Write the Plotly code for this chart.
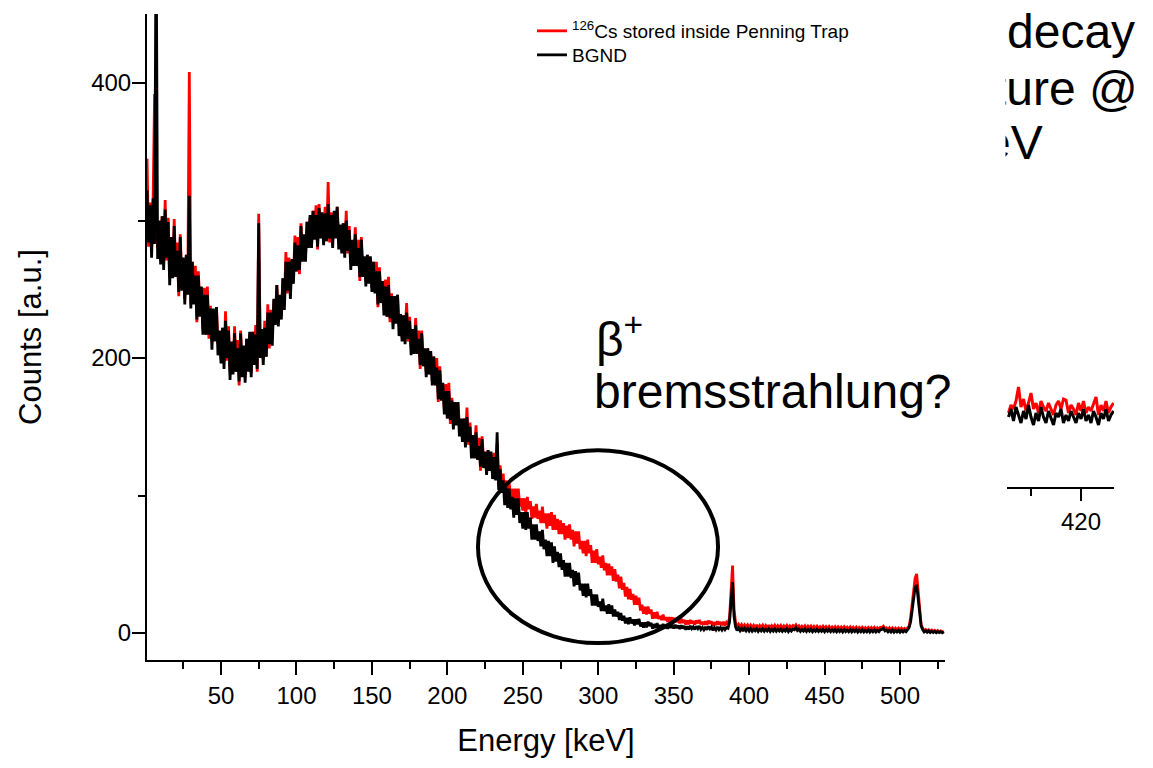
import plotly.graph_objects as go

W, H = 1153, 768

# ---------------- data ----------------
# counts per 1 keV channel, channel energies 1, 2, 3, ... keV
bgnd_counts = [
    322, 284, 311, 273, 316, 283, 520, 272, 300, 268,
    303, 264, 308, 273, 299, 253, 288, 258, 296, 259,
    278, 248, 288, 249, 273, 239, 275, 246, 318, 236,
    270, 239, 260, 228, 260, 230, 252, 217, 246, 217,
    246, 217, 236, 206, 236, 212, 237, 202, 220, 196,
    222, 192, 227, 200, 220, 184, 212, 188, 218, 190,
    207, 183, 218, 186, 209, 182, 214, 190, 219, 186,
    219, 195, 217, 192, 298, 200, 221, 195, 222, 201,
    233, 210, 233, 209, 243, 224, 253, 223, 246, 228,
    258, 235, 270, 249, 270, 243, 272, 254, 284, 263,
    282, 264, 296, 270, 290, 270, 299, 280, 304, 280,
    307, 286, 304, 281, 309, 287, 306, 282, 305, 285,
    312, 287, 304, 280, 307, 287, 310, 279, 297, 276,
    298, 273, 300, 278, 293, 264, 286, 267, 290, 267,
    280, 259, 286, 259, 274, 252, 275, 254, 274, 248,
    270, 247, 263, 239, 263, 240, 256, 231, 252, 230,
    253, 229, 245, 221, 245, 225, 246, 216, 232, 212,
    231, 210, 233, 214, 227, 202, 221, 203, 224, 203,
    214, 195, 218, 194, 207, 186, 207, 188, 205, 180,
    201, 180, 193, 170, 191, 169, 182, 159, 176, 156,
    176, 155, 169, 148, 168, 151, 168, 143, 156, 139,
    156, 135, 157, 139, 150, 127, 144, 127, 146, 126,
    136, 121, 141, 120, 132, 115, 133, 118, 132, 112,
    128, 111, 146, 104, 119, 102, 111, 93, 106, 91,
    105, 90, 99, 84, 98, 86, 98, 80, 88, 76,
    88, 75, 88, 76, 84, 68, 79, 68, 79, 67,
    74, 63, 75, 61, 68, 56, 67, 56, 66, 51,
    63, 52, 59, 48, 58, 46, 53, 41, 51, 41,
    51, 40, 46, 34, 45, 35, 44, 31, 36, 27,
    36, 26, 36, 27, 32, 20, 28, 20, 28, 19,
    23, 16, 25, 16, 20, 14, 21, 14, 20, 12,
    17, 12, 15.5, 9.5, 14.5, 9, 12.5, 7, 11, 6.5,
    11.5, 7, 10, 5.5, 10, 6.3, 10.3, 4.7, 7.8, 4,
    7.8, 4.2, 8.3, 5.1, 7.4, 3.2, 6.5, 3.7, 7.2, 3.8,
    5.7, 3.5, 6.6, 3.7, 5.6, 3.1, 5.9, 3.8, 6.1, 3.3,
    6, 3.6, 5.5, 3, 5.7, 3.3, 5.1, 2.5, 4.9, 2.7,
    5.2, 3.2, 4.6, 2.6, 4.9, 3.2, 5.1, 2.6, 4.1, 2.4,
    4.4, 2.4, 4.8, 3, 4.4, 2, 4, 2.3, 4.4, 2.5,
    4.0, 2.2, 4.2, 2.4, 4.0, 3.5, 8, 22, 37, 12,
    4.5, 1.8, 3.6, 1.7, 3.5, 1.5, 3.4, 1.6, 3.3, 1.4,
    3.2, 1.4, 2.9, 1.6, 3.1, 1.2, 2.8, 1.5, 3.0, 1.3,
    2.9, 1.5, 3.1, 1.2, 2.7, 1.4, 3.0, 1.3, 2.8, 1.5,
    2.9, 1.2, 2.6, 1.4, 3.0, 1.1, 2.7, 1.4, 2.8, 2.4,
    4.0, 1.8, 2.8, 1.2, 2.6, 1.4, 2.9, 1.1, 2.6, 1.3,
    2.8, 1.0, 2.5, 1.3, 2.7, 1.1, 2.4, 1.2, 2.6, 0.9,
    2.5, 1.2, 2.6, 1.0, 2.3, 1.1, 2.5, 0.9, 2.4, 1.1,
    2.3, 0.8, 2.5, 1.0, 2.2, 0.9, 2.4, 0.8, 2.2, 1.0,
    2.3, 0.7, 2.1, 0.9, 2.3, 0.8, 2.0, 0.9, 2.2, 0.7,
    2.1, 0.9, 2.2, 0.7, 2.0, 1.0, 2.4, 2.6, 3.5, 1.6,
    2.1, 0.8, 2.0, 0.7, 2.1, 0.6, 1.9, 0.8, 2.0, 0.6,
    1.9, 0.7, 1.8, 0.9, 2.2, 4, 8, 16, 26, 33,
    35, 24, 12, 5, 2.5, 0.8, 1.6, 0.5, 1.5, 0.4,
    1.3, 0.4, 1.2, 0.3, 1.1, 0.3, 1.0, 0.2, 0.9,
]

cs_counts = [
    345, 281, 313, 280, 315, 392, 305, 280, 298, 271,
    303, 269, 315, 271, 302, 259, 287, 262, 301, 259,
    284, 245, 290, 256, 272, 243, 275, 254, 408, 239,
    270, 244, 267, 226, 263, 236, 251, 221, 251, 217,
    252, 214, 238, 213, 235, 216, 237, 210, 218, 199,
    222, 197, 234, 198, 223, 190, 211, 192, 223, 190,
    213, 180, 220, 193, 208, 186, 214, 198, 217, 189,
    219, 200, 224, 190, 305, 206, 220, 199, 227, 201,
    239, 207, 235, 216, 242, 228, 253, 231, 244, 231,
    258, 240, 277, 247, 273, 249, 271, 258, 289, 263,
    288, 261, 298, 277, 289, 274, 299, 288, 302, 283,
    307, 291, 311, 279, 312, 293, 305, 286, 310, 285,
    328, 284, 306, 287, 306, 291, 310, 287, 295, 279,
    298, 278, 307, 276, 296, 270, 285, 271, 295, 267,
    286, 256, 288, 266, 273, 256, 275, 262, 272, 251,
    270, 252, 270, 237, 266, 246, 255, 235, 257, 230,
    259, 226, 247, 228, 244, 229, 246, 224, 230, 215,
    231, 215, 240, 212, 230, 208, 220, 207, 229, 203,
    220, 192, 220, 201, 206, 190, 207, 196, 203, 183,
    201, 185, 200, 168, 194, 175, 181, 163, 181, 156,
    182, 152, 171, 155, 167, 155, 168, 151, 154, 142,
    156, 140, 164, 137, 153, 133, 143, 131, 151, 126,
    142, 118, 143, 127, 131, 119, 133, 126, 130, 115,
    131, 114, 138, 108, 122, 106, 116, 99, 111, 97,
    109, 98, 105, 93, 105, 96, 105, 92, 98, 89,
    98, 87, 99, 90, 96, 83, 92, 84, 94, 83,
    89, 80, 92, 80, 87, 76, 87, 78, 88, 75,
    86, 75, 83, 72, 82, 72, 80, 68, 78, 69,
    79, 68, 75, 63, 74, 65, 74, 61, 67, 58,
    67, 56, 68, 58, 64, 51, 60, 51, 61, 50,
    55.5, 47.5, 56.5, 45.5, 51, 42, 50.5, 42, 48.5, 38,
    46.5, 37.5, 42.5, 32.5, 41, 31.5, 36.5, 26.5, 33.5, 24.5,
    32, 24.2, 28.4, 20.6, 27.1, 20.5, 25.8, 16.4, 20.6, 14,
    19.1, 13.5, 19.3, 14.1, 17.1, 10.4, 15, 10.6, 15.5, 10.2,
    12.5, 9.4, 13.4, 9.3, 11.6, 8.1, 11.6, 8.5, 11.4, 7.4,
    11, 8, 10.2, 7.1, 10.4, 7.3, 9.6, 6.2, 9.2, 6.4,
    9.5, 6.9, 8.8, 6.3, 9.1, 7.1, 9.5, 6.4, 8.2, 6,
    8.5, 6, 9, 6.8, 8.5, 5.4, 7.8, 5.9, 8.5, 6.1,
    8, 5.8, 8.2, 5.6, 7.8, 6.5, 11, 30, 49, 17,
    7.5, 4.6, 6.4, 4.4, 6.2, 4.2, 6, 4.3, 5.9, 4.1,
    5.8, 4.0, 5.6, 3.9, 5.9, 3.7, 5.5, 4.0, 5.7, 3.8,
    5.5, 3.9, 5.7, 3.6, 5.3, 3.8, 5.6, 3.7, 5.4, 3.9,
    5.5, 3.6, 5.2, 3.8, 5.5, 3.5, 5.2, 3.8, 5.4, 4.5,
    6.0, 4.0, 5.2, 3.5, 5.0, 3.7, 5.3, 3.4, 5.0, 3.6,
    5.1, 3.3, 4.9, 3.5, 5.0, 3.3, 4.7, 3.4, 4.9, 3.2,
    4.7, 3.3, 4.8, 3.1, 4.5, 3.2, 4.7, 3.0, 4.5, 3.1,
    4.4, 2.9, 4.6, 3.0, 4.3, 2.9, 4.4, 2.8, 4.2, 2.9,
    4.3, 2.7, 4.1, 2.8, 4.2, 2.7, 4.0, 2.8, 4.1, 2.6,
    4.0, 2.7, 4.1, 2.6, 3.9, 2.8, 4.2, 4.0, 5.0, 3.2,
    3.8, 2.5, 3.8, 2.4, 3.7, 2.3, 3.6, 2.4, 3.6, 2.2,
    3.5, 2.3, 3.4, 2.4, 3.5, 5, 11, 20, 32, 40,
    43, 30, 15, 6, 3.5, 1.8, 2.6, 1.6, 2.4, 1.4,
    2.2, 1.2, 2.0, 1.0, 1.8, 0.9, 1.6, 0.8, 1.5,
]

# partially hidden second spectrum (right side), 0.5 keV bins from 405.5 keV
inset_bgnd = [
    70, 78, 66, 80, 72, 64, 76, 68, 82, 70,
    62, 74, 66, 80, 70, 64, 76, 68, 62, 74,
    70, 78, 64, 72, 66, 76, 70, 64, 74, 68,
    78, 66, 72, 64, 76, 70, 62, 74, 68, 78,
    66, 72, 76,
]
inset_cs = [
    74, 82, 78, 86, 100, 80, 88, 76, 84, 94,
    78, 84, 74, 86, 80, 76, 84, 78, 72, 82,
    86, 78, 88, 87, 74, 82, 78, 72, 84, 76,
    86, 74, 80, 76, 84, 90, 72, 82, 76, 86,
    74, 80, 84,
]

n = min(len(bgnd_counts), len(cs_counts))
energy = [1 + i for i in range(n)]
m = min(len(inset_bgnd), len(inset_cs))
inset_energy = [405.5 + 0.5 * i for i in range(m)]

FONT = "Arial, 'Liberation Sans', Helvetica, sans-serif"


def px_x(p):
    return p / W


def px_y(p):
    return 1 - p / H


fig = go.Figure()
fig.add_trace(go.Scatter(
    x=energy, y=cs_counts[:n], mode="lines",
    line=dict(color="#ff0000", width=2.8),
    name="<sup>126</sup>Cs stored inside Penning Trap", legend="legend"))
fig.add_trace(go.Scatter(
    x=energy, y=bgnd_counts[:n], mode="lines",
    line=dict(color="#000000", width=2.8),
    name="BGND", legend="legend2"))
fig.add_trace(go.Scatter(
    x=inset_energy, y=inset_cs[:m], mode="lines",
    line=dict(color="#ff0000", width=3), showlegend=False,
    xaxis="x2", yaxis="y2"))
fig.add_trace(go.Scatter(
    x=inset_energy, y=inset_bgnd[:m], mode="lines",
    line=dict(color="#000000", width=3), showlegend=False,
    xaxis="x2", yaxis="y2"))

fig.add_shape(type="circle", xref="x", yref="y",
              x0=220.3, x1=379.4, y0=-7.3, y1=133,
              line=dict(color="black", width=4))

ann = []
ann.append(dict(text="\u03b2<sup>+</sup>", x=px_x(594), y=px_y(336),
                xref="paper", yref="paper", xanchor="left", yanchor="middle",
                showarrow=False, font=dict(size=48, color="black", family=FONT)))
ann.append(dict(text="bremsstrahlung?", x=px_x(592), y=px_y(391),
                xref="paper", yref="paper", xanchor="left", yanchor="middle",
                showarrow=False, font=dict(size=48, color="black", family=FONT)))
for txt, xr, yc in [("decay", 1137, 32), ("ture @", 1140, 88), ("eV", 1045, 143)]:
    ann.append(dict(text=txt, x=px_x(xr), y=px_y(yc), xref="paper", yref="paper",
                    xanchor="right", yanchor="middle", showarrow=False,
                    font=dict(size=48, color="black", family=FONT)))
# white area of the front image hiding the start of the slide text
ann.append(dict(text="&nbsp;", x=px_x(952), y=px_y(0), xref="paper", yref="paper",
                xanchor="left", yanchor="top", showarrow=False, width=52, height=185,
                bgcolor="white", borderpad=0, font=dict(size=10)))

fig.update_layout(
    width=W, height=H,
    margin=dict(l=0, r=0, t=0, b=0),
    paper_bgcolor="white", plot_bgcolor="white",
    font=dict(family=FONT, color="black"),
    showlegend=True,
    legend=dict(x=px_x(532), y=px_y(12), xanchor="left", yanchor="top",
                bgcolor="rgba(0,0,0,0)", borderwidth=0,
                font=dict(size=19, family=FONT, color="black")),
    legend2=dict(x=px_x(532), y=px_y(36), xanchor="left", yanchor="top",
                 bgcolor="rgba(0,0,0,0)", borderwidth=0,
                 font=dict(size=19, family=FONT, color="black")),
    xaxis=dict(domain=[px_x(147), px_x(945)], range=[0.96, 529.8],
               showline=True, linecolor="black", linewidth=2,
               ticks="outside", ticklen=13, tickwidth=2, tickcolor="black",
               tick0=0, dtick=50, tickfont=dict(size=24, family=FONT),
               minor=dict(ticks="outside", ticklen=7, tickwidth=2, tickcolor="black",
                          tick0=0, dtick=25, showgrid=False),
               showgrid=False, zeroline=False, anchor="y",
               title=dict(text="Energy [keV]", font=dict(size=31, family=FONT),
                          standoff=22)),
    yaxis=dict(domain=[1 - 660 / H, 1 - 14 / H], range=[-19.6, 450.2],
               showline=True, linecolor="black", linewidth=2,
               ticks="outside", ticklen=13, tickwidth=2, tickcolor="black",
               tick0=0, dtick=200, tickfont=dict(size=24, family=FONT),
               ticklabelstandoff=-4,
               minor=dict(ticks="outside", ticklen=7, tickwidth=2, tickcolor="black",
                          tick0=0, dtick=100, showgrid=False),
               showgrid=False, zeroline=False, anchor="x",
               title=dict(text="Counts [a.u.]", font=dict(size=31, family=FONT),
                          standoff=40)),
    xaxis2=dict(domain=[px_x(1007), px_x(1114)], range=[405.2, 426.6],
                showline=True, linecolor="black", linewidth=2,
                ticks="outside", ticklen=12, tickwidth=2, tickcolor="black",
                tick0=0, dtick=20, tickfont=dict(size=24, family=FONT),
                minor=dict(ticks="outside", ticklen=7, tickwidth=2, tickcolor="black",
                           tick0=0, dtick=10, showgrid=False),
                showgrid=False, zeroline=False, anchor="y2"),
    yaxis2=dict(domain=[1 - 487 / H, 1 - 380 / H], range=[0, 107],
                visible=False, anchor="x2"),
    annotations=ann,
)

fig.write_html("out.html")
